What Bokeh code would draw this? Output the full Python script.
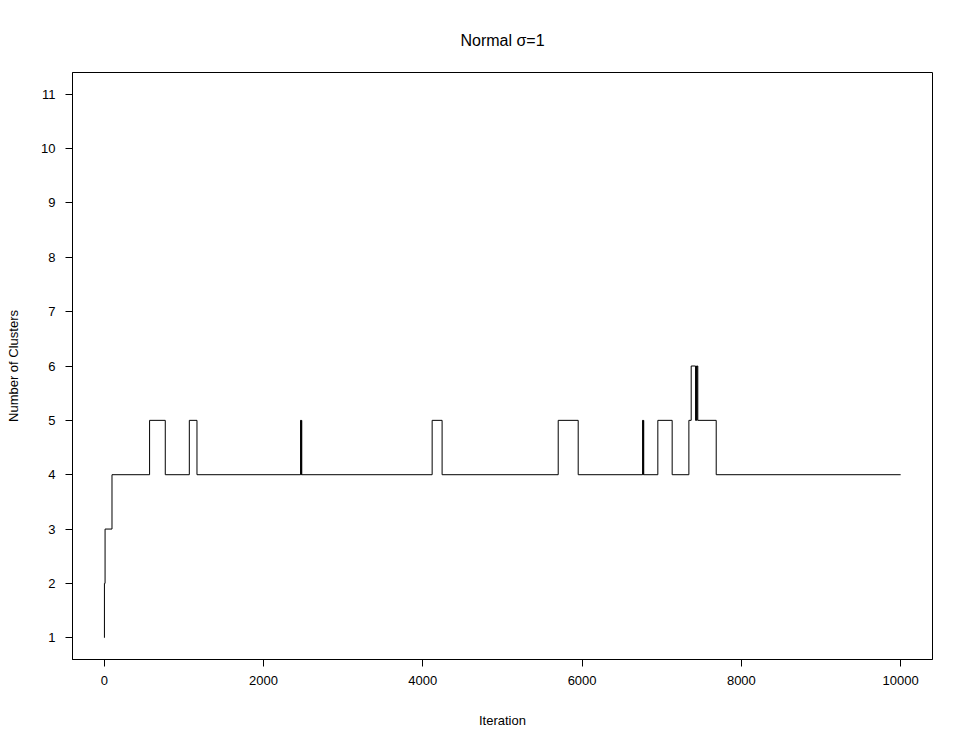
from bokeh.plotting import figure
from bokeh.models import FixedTicker, Range1d
from bokeh.embed import file_html
from bokeh.resources import INLINE

# Iterations where the number of clusters changes, and the new value
change_iter = [1, 2, 10, 97, 569, 766, 1068, 1164, 2465, 2470, 2475, 2480,
               4117, 4242, 5700, 5951, 6760, 6765, 6769, 6774, 6951, 7131,
               7341, 7370, 7425, 7432, 7438, 7444, 7453, 7684, 10000]
n_clusters = [1, 2, 3, 4, 5, 4, 5, 4, 5, 4, 5, 4,
              5, 4, 5, 4, 5, 4, 5, 4, 5, 4,
              5, 6, 5, 6, 5, 6, 5, 4, 4]

x_ticks = [0, 2000, 4000, 6000, 8000, 10000]
y_ticks = [1, 2, 3, 4, 5, 6, 7, 8, 9, 10, 11]

FONT = "Liberation Sans"

p = figure(width=961, height=741, output_backend="svg", toolbar_location=None,
           title="Normal \u03c3=1",
           x_range=Range1d(-399, 10400), y_range=Range1d(0.6, 11.4),
           min_border_left=72, min_border_right=29, min_border_top=72, min_border_bottom=82)

p.step(change_iter, n_clusters, mode="after", line_color="black", line_width=1)

p.title.align = "center"
p.title.text_font = FONT
p.title.text_font_size = "16px"
p.title.text_font_style = "normal"
p.title.text_color = "black"
p.title.standoff = 48

p.xgrid.visible = False
p.ygrid.visible = False
p.outline_line_color = "black"
p.outline_line_width = 1
p.background_fill_color = "white"
p.border_fill_color = "white"

for ax in (p.xaxis[0], p.yaxis[0]):
    ax.major_tick_in = 0
    ax.major_tick_out = 7
    ax.minor_tick_in = 0
    ax.minor_tick_out = 0
    ax.major_tick_line_color = "black"
    ax.axis_line_color = "black"
    ax.major_label_text_font = FONT
    ax.major_label_text_font_size = "13px"
    ax.major_label_text_color = "black"
    ax.axis_label_text_font = FONT
    ax.axis_label_text_font_size = "13px"
    ax.axis_label_text_font_style = "normal"
    ax.axis_label_text_color = "black"

p.xaxis.ticker = FixedTicker(ticks=x_ticks)
p.yaxis.ticker = FixedTicker(ticks=y_ticks)
p.xaxis.axis_label = "Iteration"
p.yaxis.axis_label = "Number of Clusters"
p.xaxis.major_label_standoff = 9
p.yaxis.major_label_standoff = 10
p.xaxis.axis_label_standoff = 25
p.yaxis.axis_label_standoff = 17
p.yaxis.major_label_orientation = "horizontal"

open("out.html", "w").write(file_html(p, INLINE))
